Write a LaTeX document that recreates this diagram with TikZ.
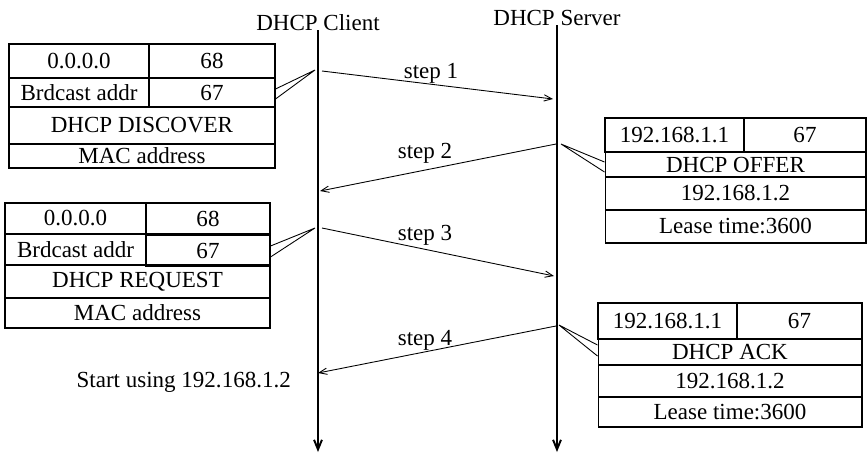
\documentclass[tikz,border=0pt]{standalone}
\usepackage{fontspec}
\setmainfont{Liberation Serif}
\usetikzlibrary{arrows.meta}

\begin{document}
\begin{tikzpicture}[x=0.02cm,y=-0.02cm,
	every node/.style={font=\fontsize{13.1}{15}\selectfont},
	cell/.style={draw, line width=0.6pt, inner sep=0pt},
	life/.style={line width=1.1pt, -{Straight Barb[length=5.5pt,width=4.5pt]}},
	msg/.style={line width=0.5pt, -{Straight Barb[length=4.5pt,width=3.6pt]}},
	callout/.style={line width=0.5pt}]
	\useasboundingbox (0,0) rectangle (867,454);

            % the two hosts
            \node[anchor=base] (client) at (318,30) {DHCP Client};
            \node[anchor=base] (server) at (557,25) {DHCP Server};
            \coordinate (cend) at (318,452);
            \coordinate (send) at (557,452);
            \draw[life] (client.base) -- (cend);
            \draw[life] (server.base) -- (send);

            % discover packet
            \node[cell, minimum width=2.8cm, minimum height=0.68cm] (dA) at (79,61) {0.0.0.0};
            \node[cell, minimum width=2.52cm, minimum height=0.68cm] (dB) at (212,61) {68};
            \node[cell, minimum width=2.8cm, minimum height=0.58cm] (dC) at (79,92.5) {Brdcast addr};
            \node[cell, minimum width=2.52cm, minimum height=0.58cm] (dD) at (212,92.5) {67};
            \node[cell, minimum width=5.32cm, minimum height=0.74cm] (dE) at (142,125.5) {DHCP DISCOVER};
            \node[cell, minimum width=5.32cm, minimum height=0.48cm] (dF) at (142,156) {MAC address};

            % offer packet
            \node[cell, minimum width=2.78cm, minimum height=0.68cm] (oA) at (674.5,135) {192.168.1.1};
            \node[cell, minimum width=2.44cm, minimum height=0.68cm] (oB) at (805,135) {67};
            \node[cell, minimum width=5.22cm, minimum height=0.5cm] (oC) at (735.5,164.5) {DHCP OFFER};
            \node[cell, minimum width=5.22cm, minimum height=0.66cm] (oD) at (735.5,193.5) {192.168.1.2};
            \node[cell, minimum width=5.22cm, minimum height=0.66cm] (oE) at (735.5,226.5) {Lease time:3600};

            % request packet
            \node[cell, minimum width=2.82cm, minimum height=0.62cm] (rA) at (75.5,218.5) {0.0.0.0};
            \node[cell, minimum width=2.48cm, minimum height=0.62cm] (rB) at (208,218.5) {68};
            \node[cell, minimum width=2.82cm, minimum height=0.62cm] (rC) at (75.5,249.5) {Brdcast addr};
            \node[cell, minimum width=2.48cm, minimum height=0.62cm] (rD) at (208,251) {67};
            \node[cell, minimum width=5.3cm, minimum height=0.66cm] (rE) at (137.5,281.5) {DHCP REQUEST};
            \node[cell, minimum width=5.3cm, minimum height=0.6cm] (rF) at (137.5,313) {MAC address};

            % ack packet
            \node[cell, minimum width=2.78cm, minimum height=0.72cm] (aA) at (667.5,321) {192.168.1.1};
            \node[cell, minimum width=2.5cm, minimum height=0.72cm] (aB) at (799.5,321) {67};
            \node[cell, minimum width=5.28cm, minimum height=0.52cm] (aC) at (730,352) {DHCP ACK};
            \node[cell, minimum width=5.28cm, minimum height=0.64cm] (aD) at (730,381) {192.168.1.2};
            \node[cell, minimum width=5.28cm, minimum height=0.6cm] (aE) at (730,412) {Lease time:3600};

            % messages
            \coordinate (m1a) at (322,71);  \coordinate (m1b) at (553,99);
            \coordinate (m2a) at (556,144); \coordinate (m2b) at (320,191);
            \coordinate (m3a) at (322,228); \coordinate (m3b) at (554,276);
            \coordinate (m4a) at (556,326); \coordinate (m4b) at (318,373);
            \foreach \i in {1,2,3,4}{
              \draw[msg] (m\i a) -- (m\i b);
            }

            \foreach \i/\x/\y in {1/431/78,2/425/158,3/425/240,4/425/345}{
              \node[anchor=base] (step\i) at (\x,\y) {step \i};
            }

            % callouts
            \coordinate (k1) at (315,70);
            \coordinate (k2) at (561,144);
            \coordinate (k3) at (315,228);
            \coordinate (k4) at (559,325);
            \draw[callout] ([yshift=0.07cm]dD.east) -- (k1) -- ([yshift=-0.13cm]dD.east);
            \draw[callout] ([yshift=0.05cm]oC.west) -- (k2) -- ([yshift=-0.15cm]oC.west);
            \draw[callout] ([yshift=0.1cm]rD.east) -- (k3) -- ([yshift=-0.12cm]rD.east);
            \draw[callout] ([yshift=0.14cm]aC.west) -- (k4) -- ([yshift=-0.08cm]aC.west);

          \node[anchor=base east] (start) at (297,387) {Start using 192.168.1.2};
        \end{tikzpicture}
\end{document}
